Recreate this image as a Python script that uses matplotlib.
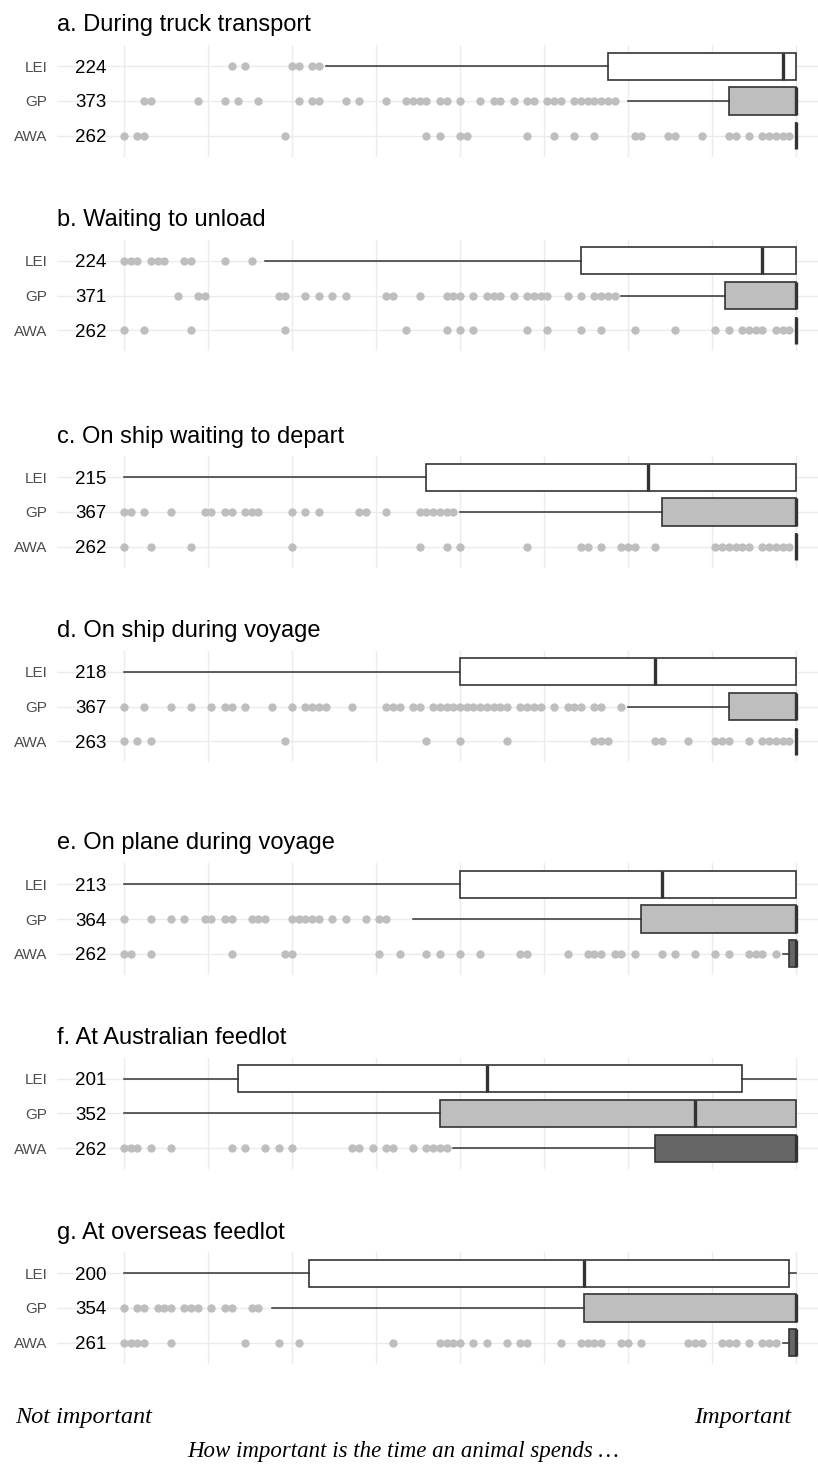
import matplotlib
matplotlib.use("Agg")
import matplotlib.pyplot as plt

# ---- data (importance score, 0 = not important, 100 = important) ----
titles = [
    "a. During truck transport",
    "b. Waiting to unload",
    "c. On ship waiting to depart",
    "d. On ship during voyage",
    "e. On plane during voyage",
    "f. At Australian feedlot",
    "g. At overseas feedlot",
]
groups = ["LEI", "GP", "AWA"]

counts = [
    [224, 373, 262],
    [224, 371, 262],
    [215, 367, 262],
    [218, 367, 263],
    [213, 364, 262],
    [201, 352, 262],
    [200, 354, 261],
]

# per panel: [LEI, GP, AWA]
whislo = [
    [30, 75, 100],
    [21, 74, 100],
    [0, 50, 100],
    [0, 75, 100],
    [0, 43, 98],
    [0, 0, 49],
    [0, 22, 98],
]
q1 = [
    [72, 90, 100],
    [68, 89.5, 100],
    [45, 80, 100],
    [50, 90, 100],
    [50, 77, 99],
    [17, 47, 79],
    [27.5, 68.5, 99],
]
med = [
    [98, 100, 100],
    [95, 100, 100],
    [78, 100, 100],
    [79, 100, 100],
    [80, 100, 100],
    [54, 85, 100],
    [68.5, 100, 100],
]
q3 = [
    [100, 100, 100],
    [100, 100, 100],
    [100, 100, 100],
    [100, 100, 100],
    [100, 100, 100],
    [92, 100, 100],
    [99, 100, 100],
]
whishi = [
    [100, 100, 100],
    [100, 100, 100],
    [100, 100, 100],
    [100, 100, 100],
    [100, 100, 100],
    [100, 100, 100],
    [100, 100, 100],
]
fliers = [
    [
        [16, 18, 25, 26, 28, 29],
        [3, 4, 11, 15, 17, 20, 26, 28, 29, 33, 35, 39, 42, 43, 44, 45, 47, 48, 50,
         53, 55, 56, 58, 60, 61, 63, 64, 65, 67, 68, 69, 70, 71, 72, 73],
        [0, 2, 3, 24, 45, 47, 50, 51, 60, 64, 67, 70, 76, 77, 81, 82, 86, 90, 91,
         93, 95, 96, 97, 98, 99],
    ],
    [
        [0, 1, 2, 4, 5, 6, 9, 10, 15, 19],
        [8, 11, 12, 23, 24, 27, 29, 31, 33, 39, 40, 44, 48, 49, 50, 52, 54, 55, 56,
         58, 60, 61, 62, 63, 66, 68, 70, 71, 72, 73],
        [0, 3, 10, 24, 42, 48, 50, 52, 60, 63, 68, 71, 76, 82, 88, 90, 92, 93, 94,
         95, 97, 98, 99],
    ],
    [
        [],
        [0, 1, 3, 7, 12, 13, 15, 16, 18, 19, 20, 25, 27, 29, 35, 36, 39, 44, 45, 46,
         47, 48, 49],
        [0, 4, 10, 25, 44, 48, 50, 60, 68, 69, 71, 74, 75, 76, 79, 88, 89, 90, 91,
         92, 93, 95, 96, 97, 98, 99],
    ],
    [
        [],
        [0, 3, 7, 10, 13, 15, 16, 18, 22, 25, 27, 28, 29, 30, 34, 39, 40, 41, 43, 44,
         46, 47, 48, 49, 50, 51, 52, 53, 54, 55, 56, 57, 59, 60, 61, 62, 64, 66, 67,
         68, 70, 71, 74],
        [0, 2, 4, 24, 45, 50, 57, 70, 71, 72, 79, 80, 84, 88, 89, 90, 93, 95, 96, 97,
         98, 99],
    ],
    [
        [],
        [0, 4, 7, 9, 12, 13, 15, 16, 19, 20, 21, 25, 26, 27, 28, 29, 31, 33, 36, 38,
         39],
        [0, 1, 4, 16, 24, 25, 38, 41, 45, 47, 50, 53, 59, 60, 66, 69, 70, 71, 73, 74,
         76, 80, 82, 85, 88, 90, 93, 94, 95, 97],
    ],
    [
        [],
        [],
        [0, 1, 2, 4, 7, 16, 18, 21, 23, 25, 34, 35, 37, 39, 40, 43, 45, 46, 47, 48],
    ],
    [
        [],
        [0, 2, 3, 5, 6, 7, 9, 10, 11, 13, 15, 16, 19, 20],
        [0, 1, 2, 3, 7, 18, 23, 26, 40, 47, 48, 49, 50, 52, 54, 57, 59, 60, 65, 68,
         69, 70, 71, 74, 75, 77, 84, 85, 86, 89, 90, 91, 93, 95, 96, 97],
    ],
]

# ---- layout (pixels) ----
W, H = 818, 1467
panel_centers = [101, 295.5, 512, 706.5, 919, 1113.5, 1308]
row_px = 34.8
ax_left, ax_right = 57, 818
x0_px, x100_px = 124, 796
box_fills = ["white", "#BEBEBE", "#666666"]
edge = "#333333"
grid_col = "#EBEBEB"
sans = ["Liberation Sans", "DejaVu Sans"]
serif = ["Liberation Serif", "DejaVu Serif"]

fig = plt.figure(figsize=(W / 100, H / 100), dpi=100)

unit = (x100_px - x0_px) / 100.0
xlim = ((ax_left - x0_px) / unit, (ax_right - x0_px) / unit)

for i, title in enumerate(titles):
    c = panel_centers[i]
    h = 3.2 * row_px
    top = c - h / 2
    ax = fig.add_axes([ax_left / W, 1 - (top + h) / H, (ax_right - ax_left) / W, h / H])

    stats = []
    for j in range(3):
        stats.append(dict(
            whislo=whislo[i][j], q1=q1[i][j], med=med[i][j], q3=q3[i][j],
            whishi=whishi[i][j], fliers=fliers[i][j], label=groups[j],
        ))

    kw = dict(
        positions=[1, 2, 3], widths=0.78, patch_artist=True, showcaps=False,
        boxprops=dict(edgecolor=edge, linewidth=1.2),
        whiskerprops=dict(color=edge, linewidth=1.1),
        medianprops=dict(color=edge, linewidth=2.4, solid_capstyle="butt"),
        flierprops=dict(marker="o", markerfacecolor="#BEBEBE",
                        markeredgecolor="none", markersize=6),
    )
    try:
        res = ax.bxp(stats, orientation="horizontal", **kw)
    except TypeError:
        res = ax.bxp(stats, vert=False, **kw)
    for patch, fc in zip(res["boxes"], box_fills):
        patch.set_facecolor(fc)

    # counts
    for j in range(3):
        ax.text(-4.9, j + 1, str(counts[i][j]), ha="center", va="center_baseline",
                fontsize=13.5, family=sans, color="black")

    # grid
    for gx in [k * 12.5 for k in range(9)]:
        ax.axvline(gx, color=grid_col, linewidth=1.0, zorder=0)
    for gy in [1, 2, 3]:
        ax.axhline(gy, color=grid_col, linewidth=1.0, zorder=0)

    ax.set_xlim(*xlim)
    ax.set_ylim(3.6, 0.4)
    ax.set_yticks([1, 2, 3])
    ax.set_yticklabels(groups, color="#4D4D4D", fontsize=11, family=sans)
    ax.tick_params(axis="y", length=0, pad=7)
    ax.set_xticks([])
    for s in ax.spines.values():
        s.set_visible(False)
    ax.set_facecolor("none")

    fig.text(ax_left / W, 1 - (c - 78) / H, title, ha="left", va="center_baseline",
             fontsize=17, family=sans)

fig.text(15 / W, 1 - 1418 / H, "Not important", ha="left", va="center",
         fontsize=17.5, style="italic", family=serif)
fig.text(791 / W, 1 - 1418 / H, "Important", ha="right", va="center",
         fontsize=17.5, style="italic", family=serif)
fig.text(403 / W, 1 - 1452 / H, "How important is the time an animal spends \u2026",
         ha="center", va="center", fontsize=16.5, style="italic", family=serif)

fig.savefig("out.png", dpi=100)
plt.close(fig)
